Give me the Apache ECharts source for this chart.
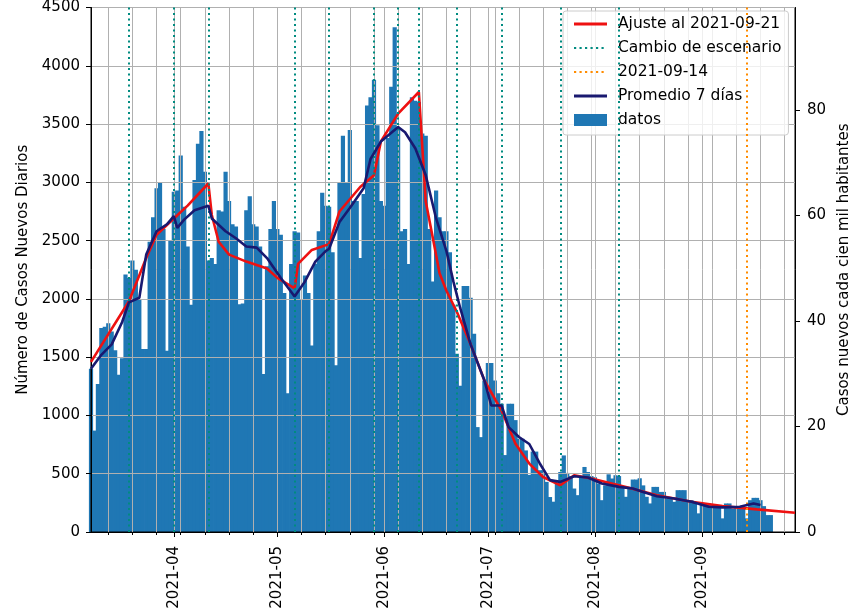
<!DOCTYPE html>
<html>
<head>
<meta charset="utf-8">
<script src="https://cdn.jsdelivr.net/npm/echarts@6/dist/echarts.min.js"></script>
<style>
  html, body { margin: 0; padding: 0; background: #fff; }
  #graph { width: 860px; height: 616px; }
</style>
</head>
<body>
<div id="graph"></div>
<script>
// eje x: un día por categoría
var firstDay = '2021-03-08';
var lastDay = '2021-09-28';

// casos diarios desde 2021-03-08 hasta 2021-09-21
var casosMarzo = [1400, 870, 1270, 1750, 1760, 1790, 1720, 1560, 1350, 1490, 2210, 2180, 2330, 2250, 2000, 1570, 1570, 2490, 2700, 2950, 3000, 2600, 1555, 2500];
var casosAbril = [2920, 2930, 3230, 2790, 2450, 1950, 3020, 3330, 3440, 3090, 2330, 2350, 2300, 2760, 2750, 3090, 2840, 2640, 2620, 1955, 1960, 2760, 2880, 2640, 2620, 2450, 1355, 2280, 2600, 2840];
var casosMayo = [2600, 2550, 2050, 1190, 2300, 2580, 2570, 2000, 2200, 2050, 1600, 2300, 2580, 2910, 2800, 2790, 2400, 1430, 3000, 3400, 3000, 3450, 2840, 2840, 2350, 2900, 3660, 3730, 3880, 3490, 2840];
var casosJunio = [2800, 3380, 3820, 4330, 3460, 2580, 2600, 2300, 3730, 3700, 3690, 3420, 3400, 2600, 2150, 2930, 2700, 2580, 2580, 2400, 1950, 1530, 1255, 2110, 2110, 2010, 1700, 900, 814, 1300];
var casosJulio = [1450, 1450, 1300, 1190, 1100, 660, 1100, 1100, 960, 800, 800, 700, 490, 690, 690, 530, 530, 430, 300, 260, 420, 515, 657, 507, 480, 373, 316, 470, 558, 515, 480];
var casosAgosto = [470, 416, 273, 400, 495, 459, 487, 480, 387, 302, 387, 450, 450, 461, 400, 302, 245, 387, 387, 344, 344, 287, 287, 259, 359, 359, 359, 273, 273, 250, 160];
var casosSeptiembre = [245, 245, 245, 216, 216, 216, 117, 245, 245, 202, 222, 222, 200, 117, 273, 293, 293, 273, 222, 145, 145];

// promedio de 7 días
var promedio7 = [
  ['2021-03-08', 1400], ['2021-03-11', 1520], ['2021-03-14', 1610], ['2021-03-17', 1800],
  ['2021-03-19', 1970], ['2021-03-22', 2010], ['2021-03-24', 2380], ['2021-03-27', 2580],
  ['2021-03-30', 2640], ['2021-04-01', 2710], ['2021-04-02', 2610], ['2021-04-04', 2680],
  ['2021-04-07', 2760], ['2021-04-11', 2800], ['2021-04-12', 2690], ['2021-04-16', 2580],
  ['2021-04-19', 2520], ['2021-04-22', 2450], ['2021-04-25', 2440], ['2021-04-28', 2350],
  ['2021-05-02', 2180], ['2021-05-06', 2020], ['2021-05-09', 2150], ['2021-05-12', 2320],
  ['2021-05-15', 2410], ['2021-05-16', 2430], ['2021-05-19', 2660], ['2021-05-22', 2780],
  ['2021-05-26', 2950], ['2021-05-28', 3200], ['2021-05-31', 3350], ['2021-06-05', 3475],
  ['2021-06-07', 3430], ['2021-06-10', 3290], ['2021-06-13', 3060], ['2021-06-16', 2690],
  ['2021-06-19', 2410], ['2021-06-21', 2150], ['2021-06-23', 1920], ['2021-06-26', 1610],
  ['2021-06-30', 1300], ['2021-07-02', 1085], ['2021-07-05', 1085], ['2021-07-07', 900],
  ['2021-07-10', 815], ['2021-07-13', 755], ['2021-07-16', 590], ['2021-07-19', 445],
  ['2021-07-22', 430], ['2021-07-26', 478], ['2021-07-30', 467], ['2021-08-03', 416],
  ['2021-08-08', 387], ['2021-08-12', 373], ['2021-08-15', 344], ['2021-08-19', 307],
  ['2021-08-24', 288], ['2021-08-29', 259], ['2021-09-03', 216], ['2021-09-07', 211],
  ['2021-09-12', 216], ['2021-09-16', 245], ['2021-09-18', 231]
];

// ajuste del modelo
var ajuste = [
  ['2021-03-08', 1460], ['2021-03-19', 1980], ['2021-03-24', 2350], ['2021-03-27', 2550],
  ['2021-04-01', 2690], ['2021-04-05', 2800], ['2021-04-11', 2990], ['2021-04-12', 2720],
  ['2021-04-14', 2490], ['2021-04-17', 2380], ['2021-04-22', 2320], ['2021-04-28', 2260],
  ['2021-05-01', 2180], ['2021-05-06', 2090], ['2021-05-07', 2300], ['2021-05-11', 2420],
  ['2021-05-16', 2470], ['2021-05-19', 2750], ['2021-05-25', 2960], ['2021-05-29', 3060],
  ['2021-05-31', 3350], ['2021-06-05', 3590], ['2021-06-11', 3775], ['2021-06-13', 2835],
  ['2021-06-15', 2530], ['2021-06-17', 2220], ['2021-06-19', 2070], ['2021-06-22', 1890],
  ['2021-06-26', 1610], ['2021-06-30', 1300], ['2021-07-05', 1040], ['2021-07-09', 757],
  ['2021-07-13', 587], ['2021-07-17', 472], ['2021-07-22', 401], ['2021-07-26', 487],
  ['2021-07-31', 459], ['2021-08-10', 387], ['2021-08-19', 316], ['2021-08-29', 259],
  ['2021-09-07', 222], ['2021-09-17', 194], ['2021-09-28', 165]
];

var cambiosEscenario = ['2021-03-19', '2021-04-01', '2021-04-11', '2021-05-06', '2021-05-16', '2021-05-29',
  '2021-06-05', '2021-06-11', '2021-06-22', '2021-07-05', '2021-07-22', '2021-08-08'];
var fechaCorte = '2021-09-14';

var ticksDerecha = [0, 20, 40, 60, 80];
var maxCasos = 4500;
var maxPorCienMil = 99.43;

var dias = [];
for (var t = Date.parse(firstDay + 'T00:00:00Z'); t <= Date.parse(lastDay + 'T00:00:00Z'); t += 86400000) {
  dias.push(new Date(t).toISOString().slice(0, 10));
}
var casos = [].concat(casosMarzo, casosAbril, casosMayo, casosJunio, casosJulio, casosAgosto, casosSeptiembre);

var isMonthStart = (i, v) => v.slice(8) === '01';
var isSaturday = (i, v) => new Date(v + 'T00:00:00Z').getUTCDay() === 6;

var FONT = 'DejaVu Sans';
var lineIcon = 'path://M0,0H33V2.8H0Z';
var dotIcon = 'path://M0,0h2.2v2.2h-2.2zM5.5,0h2.2v2.2h-2.2zM11,0h2.2v2.2h-2.2zM16.5,0h2.2v2.2h-2.2zM22,0h2.2v2.2h-2.2zM27.5,0h2.2v2.2h-2.2zM33,0h0.01v2.2h-0.01z';
var rectIcon = 'path://M0,0H33V12H0Z';

var chart = echarts.init(document.getElementById('graph'), null, { renderer: 'canvas' });

var option = {
  animation: false,
  textStyle: { fontFamily: FONT },
  grid: { left: 91, right: 62, top: 5, bottom: 84, show: true, borderColor: '#000', borderWidth: 1, backgroundColor: 'transparent' },
  legend: {
    orient: 'vertical',
    left: 563,
    top: 11,
    padding: [5, 7, 7, 11],
    itemWidth: 33,
    itemHeight: 16,
    itemGap: 8,
    backgroundColor: 'rgba(255,255,255,0.8)',
    borderColor: '#cccccc',
    borderWidth: 1,
    borderRadius: 3,
    itemStyle: { borderWidth: 0 },
    textStyle: { fontSize: 15.5, color: '#000', fontFamily: FONT, padding: [0, 0, 0, 6] },
    data: [
      { name: 'Ajuste al 2021-09-21', icon: lineIcon },
      { name: 'Cambio de escenario', icon: dotIcon },
      { name: '2021-09-14', icon: dotIcon },
      { name: 'Promedio 7 días', icon: lineIcon },
      { name: 'datos', icon: rectIcon }
    ]
  },
  xAxis: [
    {
      type: 'category',
      data: dias,
      boundaryGap: false,
      position: 'bottom',
      axisLine: { show: true, lineStyle: { color: '#000', width: 1 } },
      axisTick: { show: true, interval: isMonthStart, length: 5, lineStyle: { color: '#000' } },
      axisLabel: {
        interval: isMonthStart,
        formatter: v => v.slice(0, 7),
        rotate: 90,
        margin: 14,
        fontSize: 15,
        color: '#000',
        fontFamily: FONT
      },
      splitLine: {
        show: true,
        interval: (i, v) => isMonthStart(i, v) || isSaturday(i, v),
        lineStyle: { color: '#b0b0b0', width: 1 }
      }
    },
    {
      type: 'category',
      data: dias,
      boundaryGap: false,
      position: 'bottom',
      axisLine: { show: false },
      axisTick: { show: true, interval: isSaturday, length: 3, lineStyle: { color: '#000' } },
      axisLabel: { show: false },
      splitLine: { show: false }
    }
  ],
  yAxis: [
    {
      type: 'value',
      position: 'left',
      min: 0,
      max: maxCasos,
      interval: 500,
      name: 'Número de Casos Nuevos Diarios',
      nameLocation: 'middle',
      nameRotate: 90,
      nameGap: 57,
      nameTextStyle: { fontSize: 15, color: '#000', fontFamily: FONT },
      axisLine: { show: true, lineStyle: { color: '#000' } },
      axisTick: { show: true, length: 5, lineStyle: { color: '#000' } },
      axisLabel: { margin: 11, fontSize: 15, color: '#000', fontFamily: FONT, formatter: v => String(v) },
      splitLine: { show: true, lineStyle: { color: '#b0b0b0', width: 1 } }
    },
    {
      type: 'value',
      position: 'right',
      min: 0,
      max: maxPorCienMil,
      interval: 20,
      name: 'Casos nuevos cada cien mil habitantes',
      nameLocation: 'middle',
      nameRotate: 90,
      nameGap: 35,
      nameTextStyle: { fontSize: 15, color: '#000', fontFamily: FONT },
      axisLine: { show: true, lineStyle: { color: '#000' } },
      axisTick: { show: true, length: 5, customValues: ticksDerecha, lineStyle: { color: '#000' } },
      axisLabel: { margin: 12, fontSize: 15, color: '#000', fontFamily: FONT, customValues: ticksDerecha, formatter: v => String(v) },
      splitLine: { show: false }
    }
  ],
  series: [
    {
      name: 'datos',
      type: 'bar',
      xAxisIndex: 0,
      yAxisIndex: 0,
      data: casos,
      barWidth: 4.2,
      itemStyle: { color: '#1f77b4' },
      z: -1
    },
    {
      name: 'Cambio de escenario',
      type: 'line',
      data: [],
      color: '#008b80',
      symbol: 'none',
      z: 3,
      markLine: {
        silent: true,
        symbol: ['none', 'none'],
        label: { show: false },
        lineStyle: { color: '#008b80', width: 2, type: [2, 3.5] },
        data: cambiosEscenario.map(d => ({ xAxis: d }))
      }
    },
    {
      name: '2021-09-14',
      type: 'line',
      data: [],
      color: '#ff8c00',
      symbol: 'none',
      z: 3,
      markLine: {
        silent: true,
        symbol: ['none', 'none'],
        label: { show: false },
        lineStyle: { color: '#ff8c00', width: 2, type: [2, 3.5] },
        data: [{ xAxis: fechaCorte }]
      }
    },
    {
      name: 'Ajuste al 2021-09-21',
      type: 'line',
      data: ajuste,
      color: '#ee1111',
      symbol: 'none',
      lineStyle: { width: 2.6, color: '#ee1111' },
      z: 4
    },
    {
      name: 'Promedio 7 días',
      type: 'line',
      data: promedio7,
      color: '#191970',
      symbol: 'none',
      lineStyle: { width: 2.6, color: '#191970' },
      z: 5
    }
  ]
};

chart.setOption(option);
</script>
</body>
</html>
